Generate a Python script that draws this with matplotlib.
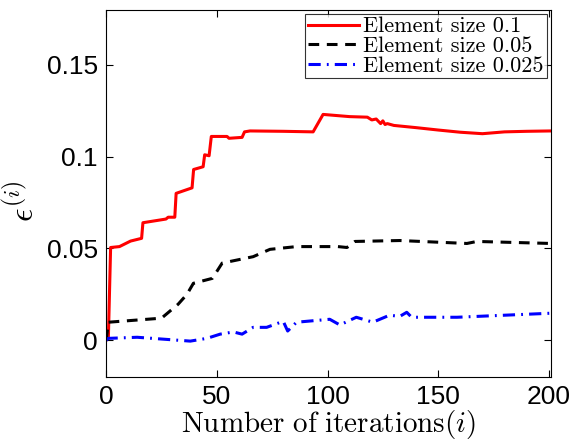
import matplotlib
matplotlib.use("Agg")
import matplotlib.pyplot as plt

plt.rcParams['mathtext.fontset'] = 'cm'

# Data
red_x = [0, 1, 2, 6, 11, 16, 16.6, 27, 28, 31, 31.6, 38.8, 39.5, 43.8, 44.5, 46.5, 47.5, 54.6, 55.5, 61.4, 62.5, 65, 80, 93.5, 98, 110, 118, 120, 122, 124, 125, 126, 127, 130, 140, 150, 160, 170, 180, 190, 201]
red_y = [0.0, 0.002, 0.0505, 0.051, 0.054, 0.0555, 0.064, 0.066, 0.067, 0.067, 0.080, 0.083, 0.093, 0.0945, 0.101, 0.1005, 0.111, 0.111, 0.110, 0.1105, 0.1135, 0.114, 0.1138, 0.1135, 0.123, 0.1218, 0.1215, 0.120, 0.1205, 0.118, 0.1195, 0.1175, 0.118, 0.117, 0.1158, 0.1145, 0.1133, 0.1125, 0.1135, 0.1138, 0.114]

black_x = [0, 1, 25, 32.5, 36.5, 39.4, 48, 52.4, 66.4, 74, 86, 104.7, 108.8, 112.4, 132.7, 163, 167.5, 201]
black_y = [0.0, 0.0098, 0.012, 0.0196, 0.025, 0.031, 0.0337, 0.042, 0.0455, 0.0495, 0.051, 0.051, 0.0505, 0.0538, 0.0543, 0.0527, 0.0538, 0.0527]

blue_x = [0, 1, 14, 38, 45.5, 51.5, 57.5, 61.4, 66.4, 72.5, 80, 82, 86, 101, 105.6, 113, 120.5, 128, 132.7, 135.8, 138, 158.5, 201]
blue_y = [0.0, 0.001, 0.0016, -0.0005, 0.001, 0.0033, 0.0045, 0.0033, 0.007, 0.007, 0.0103, 0.005, 0.0098, 0.0114, 0.0083, 0.0125, 0.0098, 0.0136, 0.013, 0.0152, 0.0125, 0.0125, 0.0147]

labels = ['Element size 0.1', 'Element size 0.05', 'Element size 0.025']
xticks = [0, 50, 100, 150, 200]
yticks = [0, 0.05, 0.1, 0.15]
yticklabels = ['0', '0.05', '0.1', '0.15']

fig = plt.figure(figsize=(5.74, 4.45), dpi=100)
ax = fig.add_axes([0.185, 0.153, 0.775, 0.825])

ax.plot(red_x, red_y, color='#ff0000', lw=2.2, ls='-', label=labels[0])
ax.plot(black_x, black_y, color='black', lw=2.2, ls=(0, (3.5, 2.5)), label=labels[1])
ax.plot(blue_x, blue_y, color='#0000ff', lw=2.2, ls=(0, (4, 2, 0.6, 2)), label=labels[2])

ax.set_xlim(0, 201)
ax.set_ylim(-0.02, 0.18)
ax.set_xticks(xticks)
ax.set_yticks(yticks)
ax.set_yticklabels(yticklabels)
ax.tick_params(direction='in', top=True, right=True, length=5, width=0.8,
               labelsize=19, pad=6)
for lab in ax.get_xticklabels() + ax.get_yticklabels():
    lab.set_family('Liberation Sans')

ax.set_xlabel(r'$\mathrm{Number\ of\ iterations}(i)$', fontsize=21, labelpad=-1)
ax.set_ylabel(r'$\epsilon^{(i)}$', fontsize=24)
ax.yaxis.set_label_coords(-0.148, 0.48)

leg = ax.legend(loc='upper right', prop={'family': 'cmr10', 'size': 16},
                frameon=True, fancybox=False, edgecolor='black',
                borderpad=0.12, labelspacing=0.0, handlelength=2.3,
                handletextpad=0.2, borderaxespad=0.2)
leg.get_frame().set_linewidth(0.8)

fig.savefig('out.png', dpi=100)
